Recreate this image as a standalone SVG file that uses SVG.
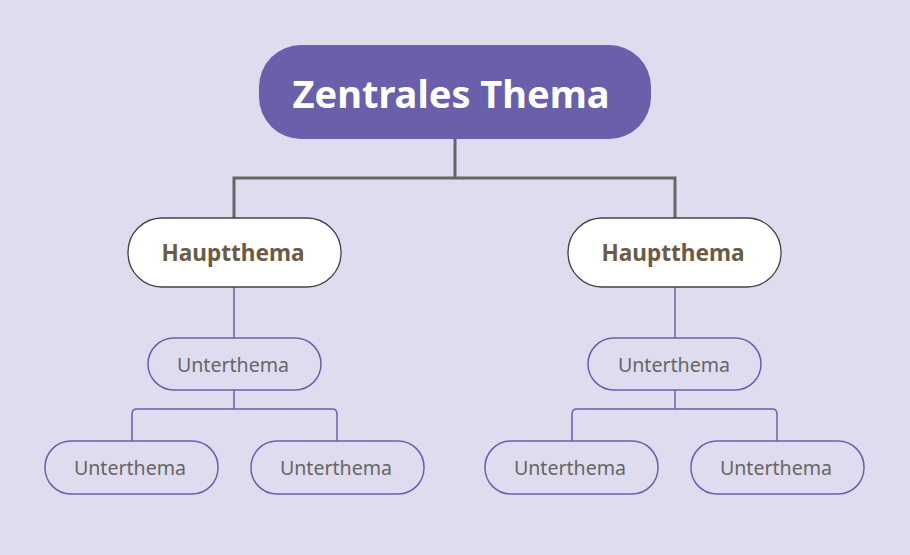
<svg xmlns="http://www.w3.org/2000/svg" width="910" height="555" viewBox="0 0 910 555">
<style>
.main{fill:#6a5fab;}
.mt{font-family:"Noto Sans","Open Sans",sans-serif;font-weight:bold;font-size:38px;fill:#ffffff;text-anchor:middle;}
.h{fill:#ffffff;stroke:#444444;stroke-width:1.3;}
.ht{font-family:"Noto Sans","Open Sans",sans-serif;font-weight:bold;font-size:22.6px;fill:#6b5a45;text-anchor:middle;}
.u{fill:none;stroke:#6a5fab;stroke-width:1.5;}
.ut{font-family:"Noto Sans","Open Sans",sans-serif;font-size:19.6px;fill:#666666;text-anchor:middle;}
.c1{fill:none;stroke:#666666;stroke-width:3;}
.c2{fill:none;stroke:#6a5fab;stroke-width:1.5;}
</style>
<rect width="910" height="555" fill="#dfdcef"/>
<g id="connectors">
<path class="c1" d="M455,139 V178 M234,218 V178 H675 V218"/>
<path class="c2" d="M234,287 V338 M675,287 V338"/>
<path class="c2" d="M234,390 V409 M132,441 V414 Q132,409 137,409 H332 Q337,409 337,414 V441"/>
<path class="c2" d="M675,390 V409 M572,441 V414 Q572,409 577,409 H772 Q777,409 777,414 V441"/>
</g>
<g id="central">
<rect class="main" x="259" y="45" width="392" height="94" rx="42"/>
<text class="mt" x="451" y="108">Zentrales Thema</text>
</g>
<g id="haupt1">
<rect class="h" x="128" y="218" width="213" height="69" rx="34"/>
<text class="ht" x="233" y="261">Hauptthema</text>
</g>
<g id="haupt2">
<rect class="h" x="568" y="218" width="213" height="69" rx="34"/>
<text class="ht" x="673" y="261">Hauptthema</text>
</g>
<g id="unter1">
<rect class="u" x="148" y="338" width="173" height="52" rx="26"/>
<text class="ut" x="233" y="372">Unterthema</text>
</g>
<g id="unter2">
<rect class="u" x="45" y="441" width="173" height="53" rx="26"/>
<text class="ut" x="130" y="475">Unterthema</text>
</g>
<g id="unter3">
<rect class="u" x="251" y="441" width="173" height="53" rx="26"/>
<text class="ut" x="336" y="475">Unterthema</text>
</g>
<g id="unter4">
<rect class="u" x="588" y="338" width="173" height="52" rx="26"/>
<text class="ut" x="674" y="372">Unterthema</text>
</g>
<g id="unter5">
<rect class="u" x="485" y="441" width="173" height="53" rx="26"/>
<text class="ut" x="570" y="475">Unterthema</text>
</g>
<g id="unter6">
<rect class="u" x="691" y="441" width="173" height="53" rx="26"/>
<text class="ut" x="776" y="475">Unterthema</text>
</g>
</svg>
